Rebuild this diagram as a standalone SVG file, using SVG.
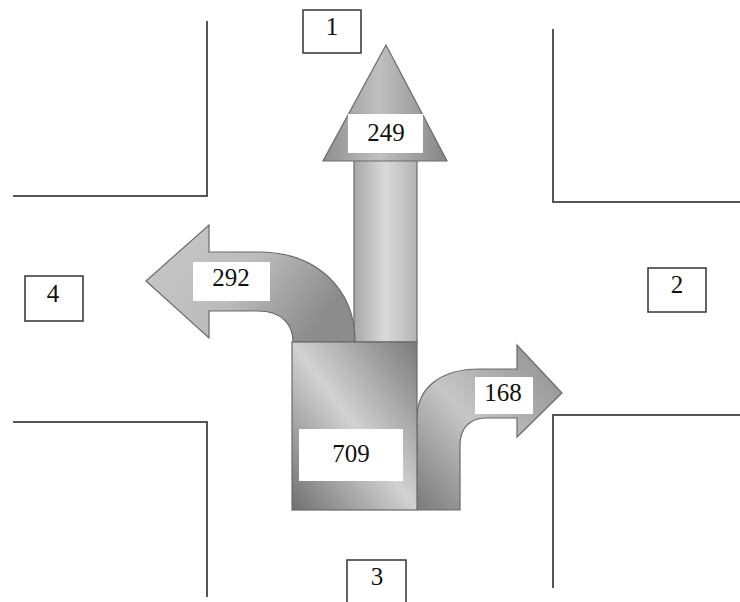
<svg xmlns="http://www.w3.org/2000/svg" width="740" height="602" viewBox="0 0 740 602">
<defs>
<style>
.road{fill:none;stroke:#555;stroke-width:2}
.box{fill:#fff;stroke:#333;stroke-width:1.5}
.lbl{fill:#fff;stroke:none}
.arrow{stroke:#6a6a6a;stroke-width:1.2}
text{font-family:"Liberation Serif","Times New Roman",serif;font-size:25px;fill:#111;text-anchor:middle}
</style>
<linearGradient id="gShaft" x1="0" y1="0" x2="1" y2="0">
<stop offset="0" stop-color="#a8a8a8"/><stop offset="0.5" stop-color="#dadada"/><stop offset="1" stop-color="#b4b4b4"/>
</linearGradient>
<linearGradient id="gHead" x1="0" y1="0" x2="1" y2="0">
<stop offset="0" stop-color="#8e8e8e"/><stop offset="0.45" stop-color="#c0c0c0"/><stop offset="1" stop-color="#858585"/>
</linearGradient>
<linearGradient id="gLeft" x1="0" y1="0" x2="1" y2="0.4">
<stop offset="0" stop-color="#c8c8c8"/><stop offset="0.55" stop-color="#bcbcbc"/><stop offset="1" stop-color="#8c8c8c"/>
</linearGradient>
<linearGradient id="gSquare" x1="0" y1="1" x2="1" y2="0">
<stop offset="0" stop-color="#707070"/><stop offset="0.5" stop-color="#d2d2d2"/><stop offset="1" stop-color="#7a7a7a"/>
</linearGradient>
<linearGradient id="gRight" x1="0" y1="1" x2="1" y2="0">
<stop offset="0" stop-color="#7a7a7a"/><stop offset="0.45" stop-color="#c6c6c6"/><stop offset="1" stop-color="#8a8a8a"/>
</linearGradient>
</defs>

<g id="roads">
<polyline class="road" points="207,21 207,196 13,196"/>
<polyline class="road" points="553,29 553,202 740,202"/>
<polyline class="road" points="13,422 207,422 207,597"/>
<polyline class="road" points="740,415 553,415 553,588"/>
</g>

<g id="node-1"><rect class="box" x="303" y="10" width="58" height="43"/><text x="332" y="35">1</text></g>
<g id="node-2"><rect class="box" x="648" y="268" width="58" height="44"/><text x="677" y="293">2</text></g>
<g id="node-3"><rect class="box" x="347" y="560" width="59" height="50"/><text x="377" y="585">3</text></g>
<g id="node-4"><rect class="box" x="25" y="276" width="58" height="45"/><text x="53" y="302">4</text></g>

<g id="connectors">
<g id="arrow-through">
<rect class="arrow" x="354" y="160" width="63" height="182" fill="url(#gShaft)"/>
<polygon class="arrow" points="386,45 447,161 323,161" fill="url(#gHead)"/>
<rect class="lbl" x="348" y="114" width="75" height="39"/>
<text x="386" y="141">249</text>
</g>
<g id="arrow-left">
<path class="arrow" fill="url(#gLeft)" d="M355,342 C355,290 318,252 258,252 L209,252 L209,225 L146,281 L209,338 L209,311 L258,311 C282,311 293,325 293,342 Z"/>
<rect class="lbl" x="193" y="262" width="77" height="39"/>
<text x="231" y="286">292</text>
</g>
<g id="arrow-right">
<path class="arrow" fill="url(#gRight)" d="M417,510 L417,418 C417,388 440,369 480,369 L517,369 L517,345 L562,393 L517,437 L517,418 L486,418 C470,418 460,428 460,445 L460,510 Z"/>
<rect class="lbl" x="475" y="377" width="58" height="37"/>
<text x="503" y="401">168</text>
</g>
<g id="node-709">
<rect class="arrow" x="292" y="342" width="125" height="168" fill="url(#gSquare)" stroke-width="0.8"/>
<rect class="lbl" x="299" y="429" width="104" height="52"/>
<text x="351" y="462">709</text>
</g>
</g>
</svg>
